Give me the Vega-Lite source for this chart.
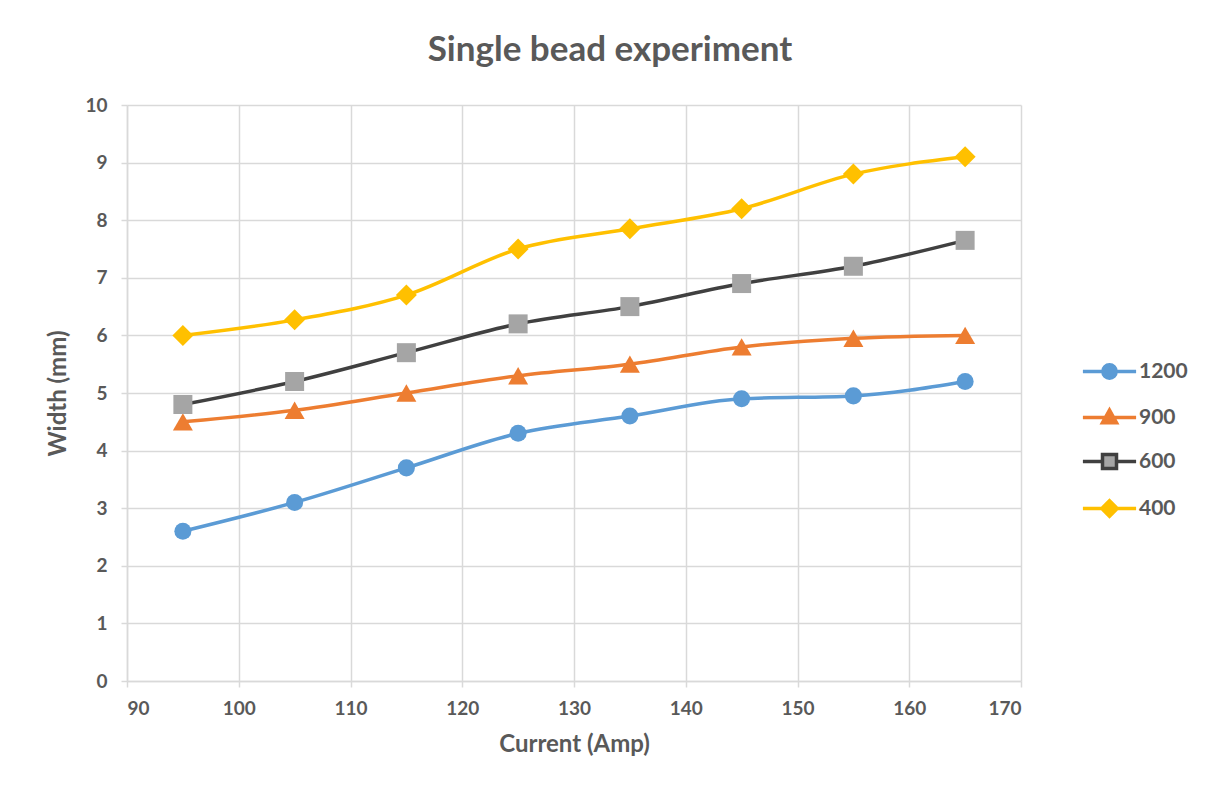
{
  "$schema": "https://vega.github.io/schema/vega-lite/v6.json",
  "width": 894,
  "height": 576,
  "autosize": {"type": "none"},
  "padding": {"left": 127, "top": 105, "right": 189, "bottom": 113},
  "background": "white",
  "title": {
    "text": "Single bead experiment",
    "font": "Lato",
    "fontSize": 35,
    "fontWeight": "bold",
    "color": "#595959",
    "anchor": "middle",
    "frame": "group",
    "dx": 36,
    "offset": 28
  },
  "config": {
    "view": {"stroke": null},
    "legend": {
      "labelFont": "Lato",
      "labelFontWeight": "bold",
      "labelFontSize": 21,
      "labelColor": "#595959"
    },
    "axis": {
      "labelFont": "Lato",
      "labelFontWeight": "bold",
      "labelFontSize": 19,
      "labelColor": "#595959",
      "titleFont": "Lato",
      "titleFontWeight": "bold",
      "titleFontSize": 24,
      "titleColor": "#595959",
      "domainColor": "#d9d9d9",
      "domainWidth": 1.5,
      "gridColor": "#d9d9d9",
      "gridWidth": 1.5,
      "tickColor": "#d9d9d9",
      "tickWidth": 1.5,
      "tickSize": 6
    }
  },
  "data": {
    "values": [
      {"current": 95, "width": 2.6, "series": "1200"},
      {"current": 105, "width": 3.1, "series": "1200"},
      {"current": 115, "width": 3.7, "series": "1200"},
      {"current": 125, "width": 4.3, "series": "1200"},
      {"current": 135, "width": 4.6, "series": "1200"},
      {"current": 145, "width": 4.9, "series": "1200"},
      {"current": 155, "width": 4.95, "series": "1200"},
      {"current": 165, "width": 5.2, "series": "1200"},
      {"current": 95, "width": 4.5, "series": "900"},
      {"current": 105, "width": 4.7, "series": "900"},
      {"current": 115, "width": 5.0, "series": "900"},
      {"current": 125, "width": 5.3, "series": "900"},
      {"current": 135, "width": 5.5, "series": "900"},
      {"current": 145, "width": 5.8, "series": "900"},
      {"current": 155, "width": 5.95, "series": "900"},
      {"current": 165, "width": 6.0, "series": "900"},
      {"current": 95, "width": 4.8, "series": "600"},
      {"current": 105, "width": 5.2, "series": "600"},
      {"current": 115, "width": 5.7, "series": "600"},
      {"current": 125, "width": 6.2, "series": "600"},
      {"current": 135, "width": 6.5, "series": "600"},
      {"current": 145, "width": 6.9, "series": "600"},
      {"current": 155, "width": 7.2, "series": "600"},
      {"current": 165, "width": 7.65, "series": "600"},
      {"current": 95, "width": 6.0, "series": "400"},
      {"current": 105, "width": 6.27, "series": "400"},
      {"current": 115, "width": 6.7, "series": "400"},
      {"current": 125, "width": 7.5, "series": "400"},
      {"current": 135, "width": 7.85, "series": "400"},
      {"current": 145, "width": 8.2, "series": "400"},
      {"current": 155, "width": 8.8, "series": "400"},
      {"current": 165, "width": 9.1, "series": "400"}
    ]
  },
  "encoding": {
    "x": {
      "field": "current",
      "type": "quantitative",
      "title": "Current (Amp)",
      "scale": {"domain": [90, 170], "nice": false, "zero": false},
      "axis": {"values": [90, 100, 110, 120, 130, 140, 150, 160, 170], "labelPadding": 12, "titlePadding": 14}
    },
    "y": {
      "field": "width",
      "type": "quantitative",
      "title": "Width (mm)",
      "scale": {"domain": [0, 10], "nice": false},
      "axis": {"values": [0, 1, 2, 3, 4, 5, 6, 7, 8, 9, 10], "labelPadding": 14, "titlePadding": 14}
    }
  },
  "layer": [
    {
      "mark": {"type": "line", "interpolate": "monotone", "strokeWidth": 3.5},
      "encoding": {
        "stroke": {
          "field": "series",
          "type": "nominal",
          "scale": {"domain": ["1200", "900", "600", "400"], "range": ["#5B9BD5", "#ED7D31", "#404040", "#FFC000"]},
          "legend": {
            "title": null,
            "orient": "none",
            "legendX": 972,
            "legendY": 256,
            "labelOffset": 19,
            "rowPadding": 17,
            "symbolSize": 196,
            "encode": {
              "symbols": {
                "update": {
                  "shape": {"signal": "datum.value === '1200' ? 'M-3.8,0H3.8M0.95,0A0.95,0.95,0,1,1,-0.95,0A0.95,0.95,0,1,1,0.95,0Z' : datum.value === '900' ? 'M-3.8,0H3.8M0,-1.05L1.0,0.75L-1.0,0.75Z' : datum.value === '600' ? 'M-3.8,0H-1.1M1.1,0H3.8M-1.0,-1.0H1.0V1.0H-1.0Z' : 'M-3.8,0H3.8M0,-1.1L1.1,0L0,1.1L-1.1,0Z'"},
                  "strokeWidth": {"value": 3.5},
                  "size": {"value": 196},
                  "opacity": {"value": 1}
                }
              }
            }
          }
        },
        "detail": {"field": "series"}
      }
    },
    {
      "mark": {"type": "point", "filled": true, "opacity": 1},
      "encoding": {
        "fill": {
          "field": "series",
          "type": "nominal",
          "scale": {"domain": ["1200", "900", "600", "400"], "range": ["#5B9BD5", "#ED7D31", "#A5A5A5", "#FFC000"]},
          "legend": {
            "title": null,
            "orient": "none",
            "legendX": 972,
            "legendY": 256,
            "labelOffset": 19,
            "rowPadding": 17,
            "symbolSize": 196,
            "encode": {
              "symbols": {
                "update": {
                  "shape": {"signal": "datum.value === '1200' ? 'M-3.8,0H3.8M0.95,0A0.95,0.95,0,1,1,-0.95,0A0.95,0.95,0,1,1,0.95,0Z' : datum.value === '900' ? 'M-3.8,0H3.8M0,-1.05L1.0,0.75L-1.0,0.75Z' : datum.value === '600' ? 'M-3.8,0H-1.1M1.1,0H3.8M-1.0,-1.0H1.0V1.0H-1.0Z' : 'M-3.8,0H3.8M0,-1.1L1.1,0L0,1.1L-1.1,0Z'"},
                  "strokeWidth": {"value": 3.5},
                  "size": {"value": 196},
                  "opacity": {"value": 1}
                }
              }
            }
          }
        },
        "shape": {
          "field": "series",
          "type": "nominal",
          "scale": {"domain": ["400", "600", "900", "1200"], "range": ["diamond", "square", "triangle-up", "circle"]},
          "legend": null
        },
        "size": {
          "field": "series",
          "type": "nominal",
          "scale": {"type": "ordinal", "domain": ["400", "600", "900", "1200"], "range": [441, 361, 400, 290]},
          "legend": null
        }
      }
    }
  ]
}
